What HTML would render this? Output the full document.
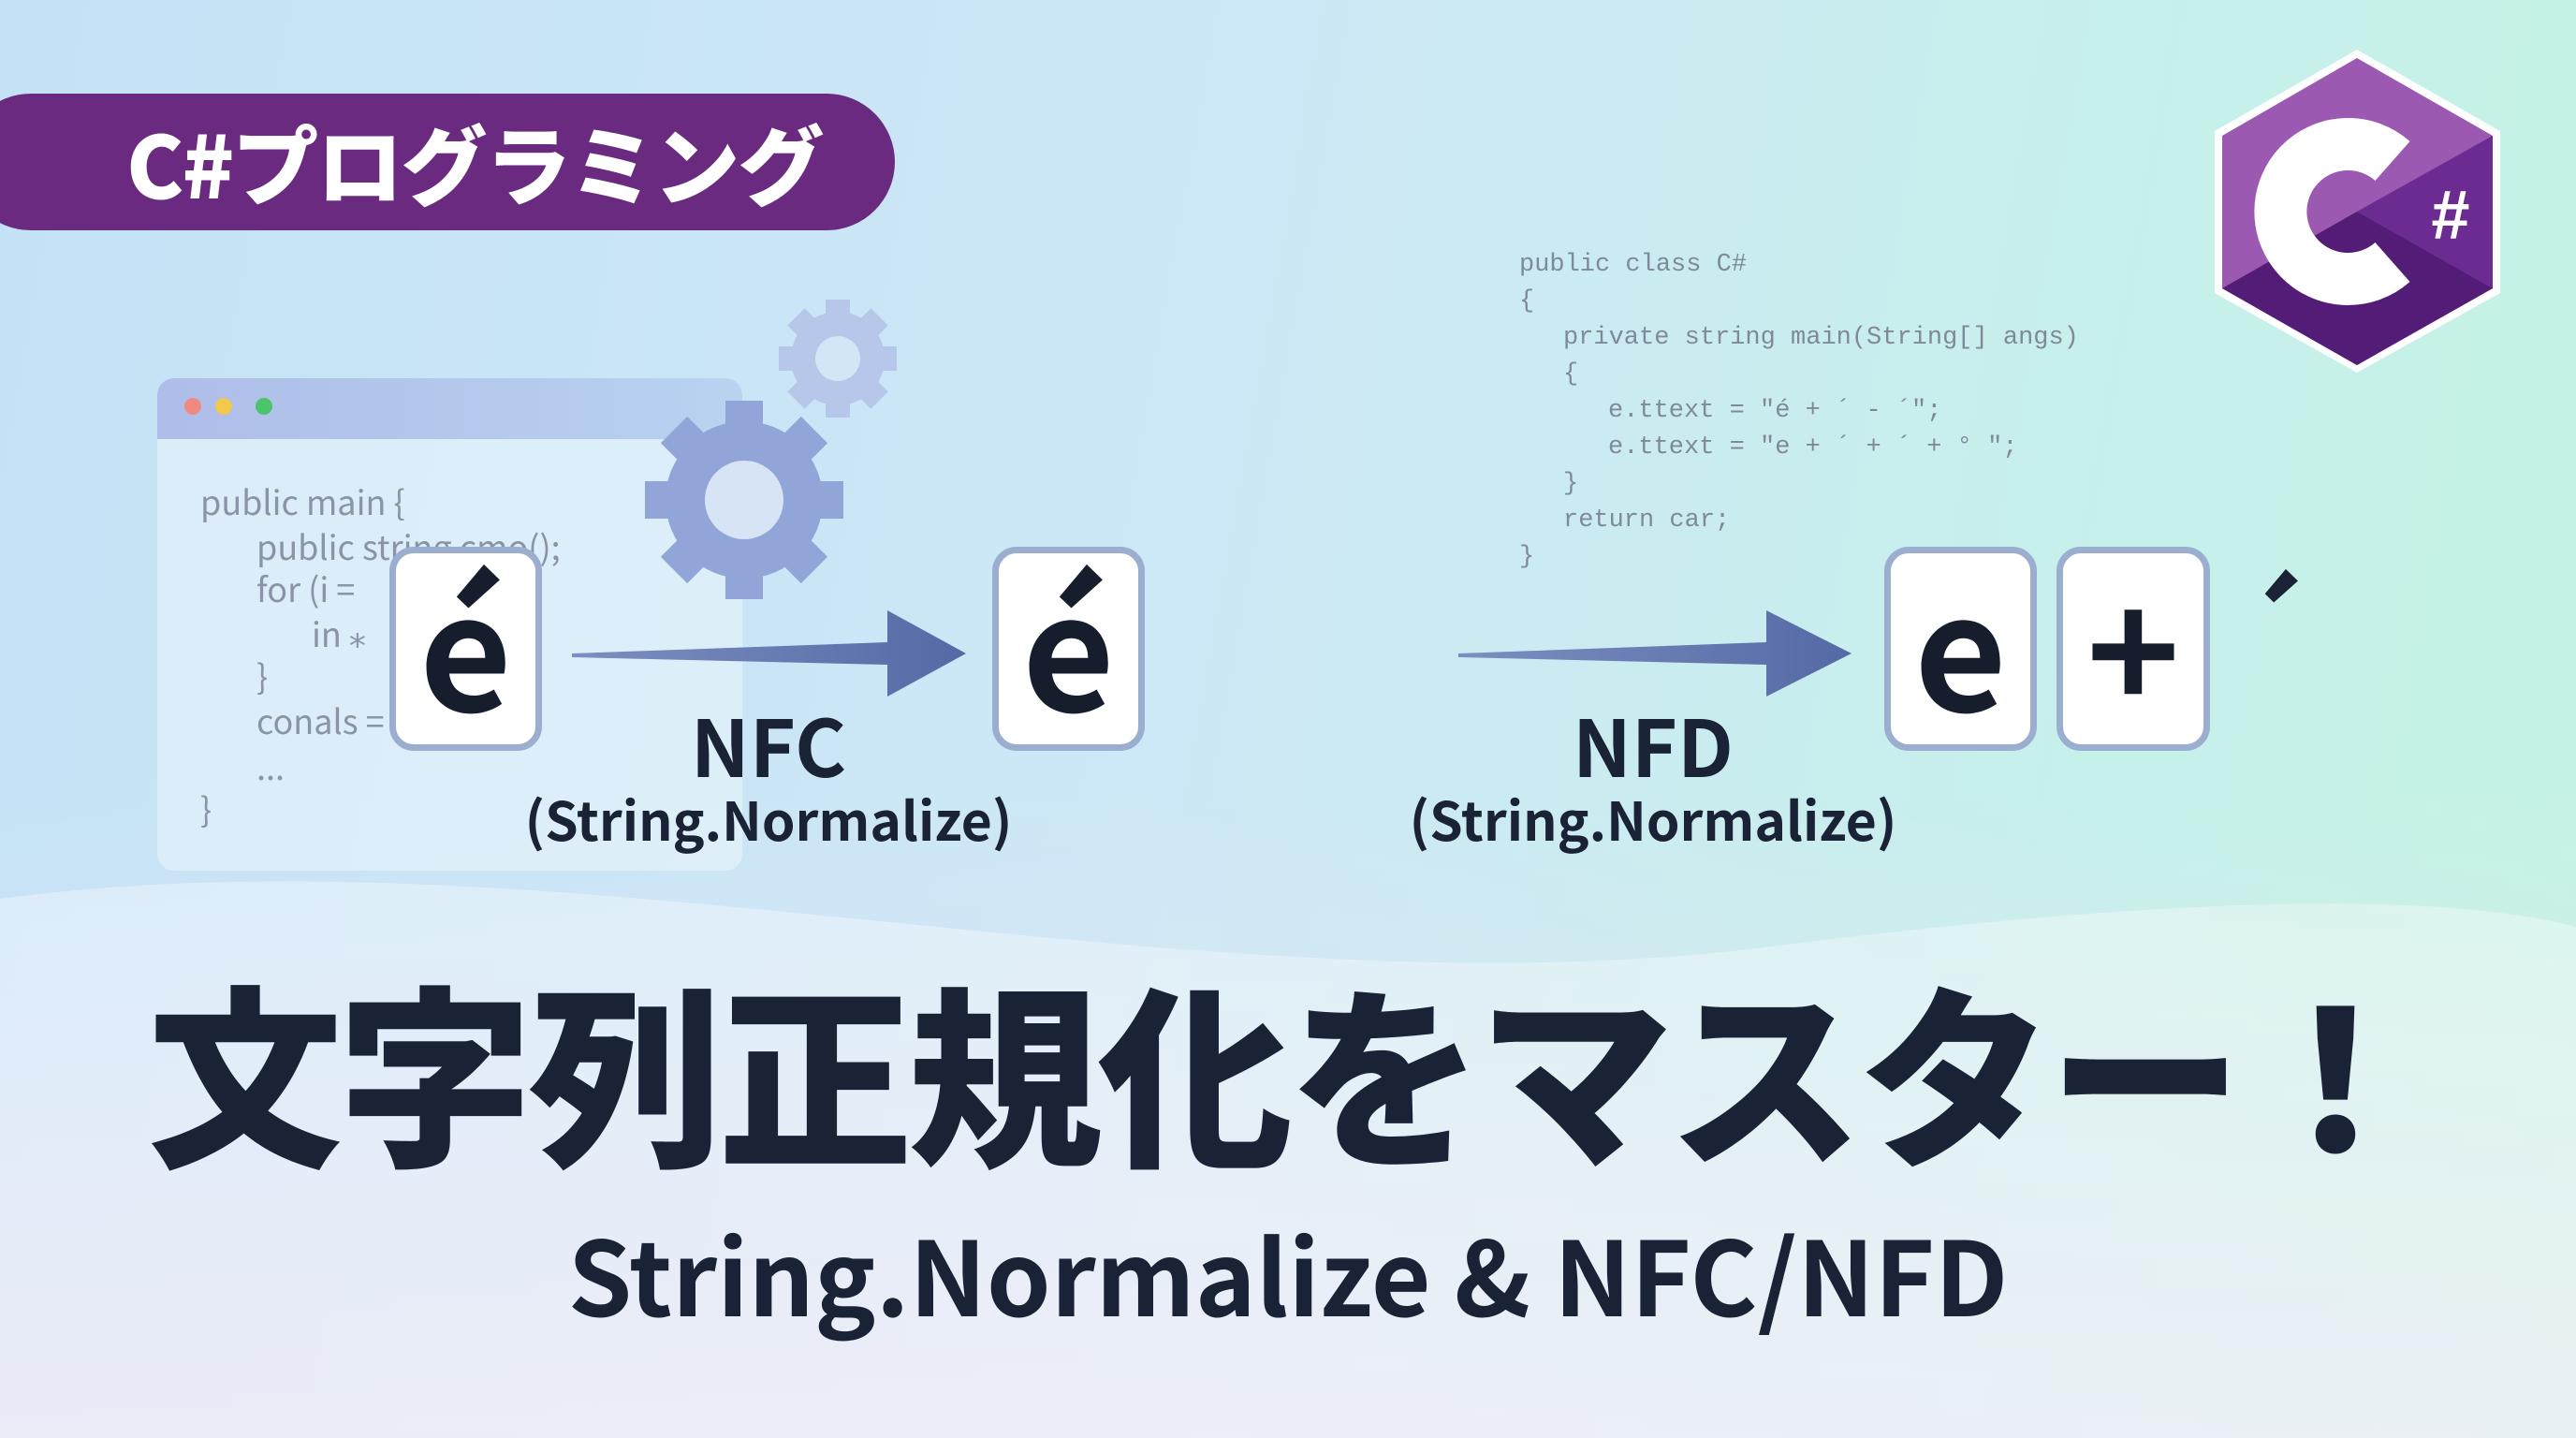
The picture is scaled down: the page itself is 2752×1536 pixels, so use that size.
<!DOCTYPE html>
<html><head><meta charset="utf-8"><style>
html,body{margin:0;padding:0}
body{width:2752px;height:1536px;position:relative;overflow:hidden;
background:linear-gradient(180deg,rgba(255,255,255,0) 55%,rgba(240,225,245,0.6) 100%),
linear-gradient(100deg,#c4e2f6 0%,#cde8f6 45%,#c6f0ea 80%,#c4f3e4 100%);
font-family:"Liberation Sans","Noto Sans CJK JP",sans-serif;}
.abs{position:absolute}
.banner{left:-40px;top:100px;width:996px;height:146px;border-radius:73px;background:#6a2a80;}
.banner span{position:absolute;left:175px;top:0;line-height:146px;font-family:"Noto Sans CJK JP",sans-serif;font-weight:900;font-size:92px;color:#fff;letter-spacing:-2px}
.win{left:168px;top:404px;width:625px;height:526px;border-radius:18px;background:rgba(255,255,255,0.35);overflow:hidden}
.win .bar{height:65px;background:linear-gradient(90deg,#aebde9,#b9d3f0)}
.dot{position:absolute;width:18px;height:18px;border-radius:50%;top:425px}
.code1{font-family:"Noto Sans CJK JP","Liberation Sans",sans-serif;font-size:36px;color:#8a93a8;line-height:36px;white-space:pre}
.code2{font-family:"Liberation Mono",monospace;font-size:27px;color:#7f8a99;line-height:27px;white-space:pre}
.box{width:150px;height:205px;border:7px solid #9caed0;border-radius:26px;background:#fff;box-sizing:border-box;text-align:center;font-family:"Noto Sans CJK JP",sans-serif;font-weight:700;font-size:170px;line-height:190px;color:#161e2e}
.lbl{font-family:"Noto Sans CJK JP",sans-serif;font-weight:700;color:#1a2236;text-align:center;white-space:nowrap}
</style></head><body>
<svg class="abs" style="left:0;top:0" width="2752" height="1536">
<path d="M0,960 C600,880 1300,1090 1900,1010 C2300,960 2600,950 2752,990 L2752,1536 L0,1536 Z" fill="#ffffff" opacity="0.35"/>
</svg>
<div class="abs banner"><span>C#プログラミング</span></div>

<div class="abs win"><div class="bar"></div></div>
<div class="abs dot" style="left:197px;background:#ef8a80"></div>
<div class="abs dot" style="left:230px;background:#f2c94c"></div>
<div class="abs dot" style="left:273px;background:#4cc46a"></div>
<div class="abs code1" style="left:214px;top:517px">public main {</div>
<div class="abs code1" style="left:274px;top:565px">public string cmo();</div>
<div class="abs code1" style="left:274px;top:610px">for (i =</div>
<div class="abs code1" style="left:333px;top:658px">in ⁎</div>
<div class="abs code1" style="left:274px;top:703px">}</div>
<div class="abs code1" style="left:274px;top:751px">conals = targ();</div>
<div class="abs code1" style="left:274px;top:800px">...</div>
<div class="abs code1" style="left:214px;top:845px">}</div>

<svg class="abs" style="left:0;top:0" width="2752" height="1536">
<g transform="translate(895,383)" fill="#b6c7ea">
<circle r="50"/>
<g><rect x="-13" y="-63" width="26" height="126"/><rect x="-13" y="-63" width="26" height="126" transform="rotate(45)"/><rect x="-13" y="-63" width="26" height="126" transform="rotate(90)"/><rect x="-13" y="-63" width="26" height="126" transform="rotate(135)"/></g>
<circle r="24" fill="#d3e6f6"/></g>
<g transform="translate(795,534)" fill="#91a5d8">
<circle r="84"/>
<g><rect x="-20" y="-106" width="40" height="212"/><rect x="-20" y="-106" width="40" height="212" transform="rotate(45)"/><rect x="-20" y="-106" width="40" height="212" transform="rotate(90)"/><rect x="-20" y="-106" width="40" height="212" transform="rotate(135)"/></g>
<circle r="42" fill="#d6e4f6"/></g>
<defs><linearGradient id="ag" x1="0" x2="1"><stop offset="0" stop-color="#7d8fc0"/><stop offset="1" stop-color="#5569a6"/></linearGradient></defs>
<polygon points="611,698 948,686 948,652 1032,698 948,744 948,710 611,702" fill="url(#ag)"/>
<polygon points="1558,698 1887,686 1887,652 1978,698 1887,744 1887,710 1558,702" fill="url(#ag)"/>
<polygon points="2518,53 2671,140 2671,313 2518,398 2366,313 2366,140" fill="#ffffff"/>
<polygon points="2518,62 2663,145 2663,308 2518,390 2374,308 2374,145" fill="#9b59b2"/>
<polygon points="2518,226 2663,145 2663,308" fill="#6b2b91"/>
<polygon points="2518,226 2663,308 2518,390 2374,308" fill="#521c77"/>
<path d="M2556,172 A72,72 0 1 0 2556,280" fill="none" stroke="#fff" stroke-width="56"/>
<text x="2618" y="255" font-family="Liberation Sans,sans-serif" font-weight="700" font-size="74" fill="#fff" text-anchor="middle">#</text>
</svg>

<div class="abs code2" style="left:1623px;top:270px">public class C#</div>
<div class="abs code2" style="left:1623px;top:309px">{</div>
<div class="abs code2" style="left:1670px;top:348px">private string main(String[] angs)</div>
<div class="abs code2" style="left:1670px;top:387px">{</div>
<div class="abs code2" style="left:1718px;top:426px">e.ttext = "é + ´ - ´";</div>
<div class="abs code2" style="left:1718px;top:465px">e.ttext = "e + ´ + ´ + ° ";</div>
<div class="abs code2" style="left:1670px;top:504px">}</div>
<div class="abs code2" style="left:1670px;top:543px">return car;</div>
<div class="abs code2" style="left:1623px;top:582px">}</div>

<div class="abs box" style="left:416px;top:584px;width:163px;height:218px">é</div>
<div class="abs box" style="left:1060px;top:584px;width:163px;height:218px">é</div>
<div class="abs box" style="left:2013px;top:584px;width:163px;height:218px">e</div>
<div class="abs box" style="left:2197px;top:584px;width:164px;height:218px">+</div>
<div class="abs lbl" style="left:2388px;top:607px;font-size:130px;line-height:130px">´</div>

<div class="abs lbl" style="left:571px;width:500px;top:745px;font-size:84px;line-height:100px">NFC</div>
<div class="abs lbl" style="left:521px;width:600px;top:836px;font-size:57px;line-height:76px">(String.Normalize)</div>
<div class="abs lbl" style="left:1516px;width:500px;top:745px;font-size:84px;line-height:100px">NFD</div>
<div class="abs lbl" style="left:1466px;width:600px;top:836px;font-size:57px;line-height:76px">(String.Normalize)</div>

<div class="abs lbl" style="left:0;width:2752px;top:1030px;font-size:208px;line-height:220px;font-weight:900;letter-spacing:-5px">文字列正規化をマスター！</div>
<div class="abs lbl" style="left:0;width:2752px;top:1288px;font-size:110px;line-height:140px">String.Normalize &amp; NFC/NFD</div>
</body></html>
